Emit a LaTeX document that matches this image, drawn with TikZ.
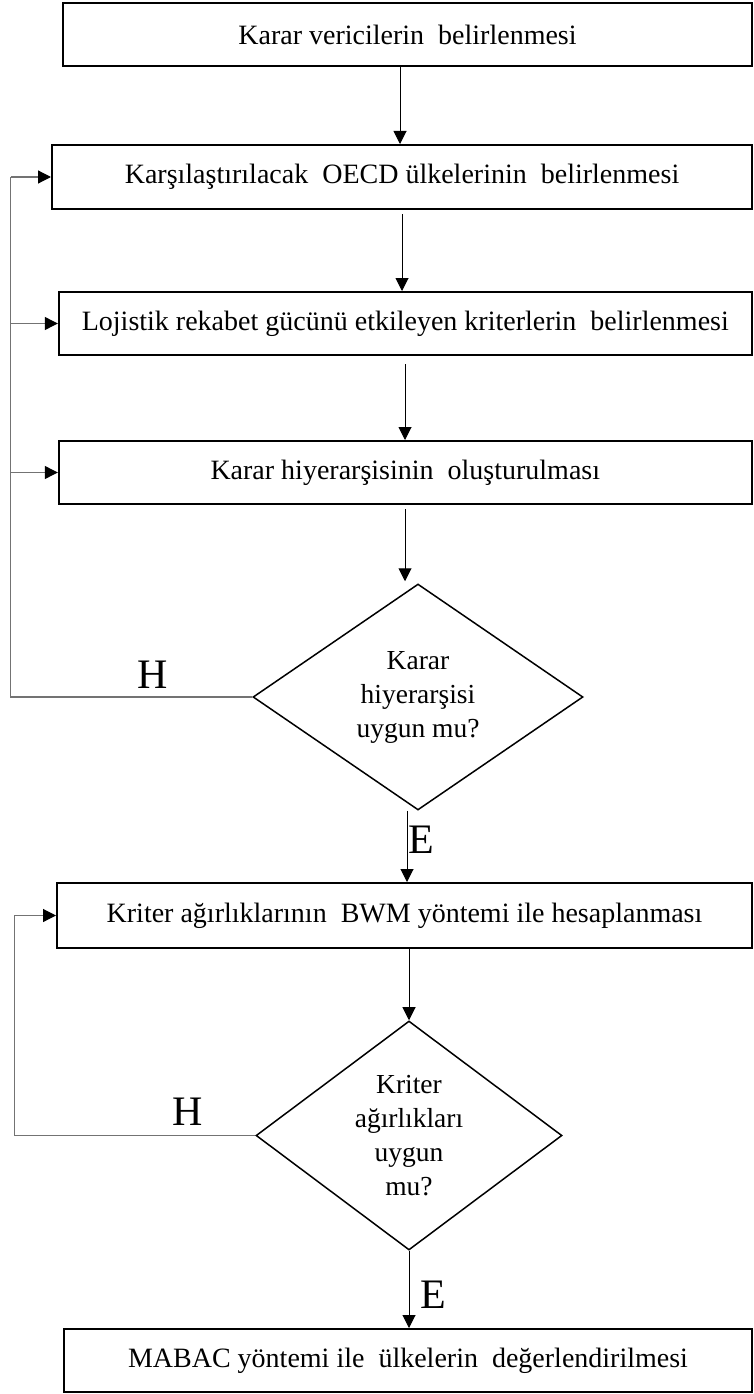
\documentclass[tikz,border=0pt]{standalone}
\usepackage{fontspec}
\setmainfont{Liberation Serif}
\usetikzlibrary{shapes.geometric,arrows.meta}
\definecolor{loopgray}{gray}{0.45}
\begin{document}
\begin{tikzpicture}[x=1pt,y=-1pt,
  stepbox/.style={draw, line width=2pt, inner sep=0pt, align=center,
    font=\fontsize{28}{34}\selectfont},
  decision/.style={draw, diamond, line width=1.5pt, inner sep=0pt, align=center,
    font=\fontsize{27.5}{34}\selectfont},
  flow/.style={line width=1pt, -{Triangle[length=13pt,width=13pt]}},
  loopline/.style={draw=loopgray, line width=1.2pt},
  looparrow/.style={loopline, -{Triangle[length=13pt,width=13pt,color=black]}},
  answer/.style={inner sep=0pt, font=\fontsize{42}{42}\selectfont}]
\useasboundingbox (0,0) rectangle (753,1394);

% process steps
\node[stepbox, minimum width=689pt, minimum height=63pt] (b1) at (407.5,34.5)
  {Karar vericilerin\ \ belirlenmesi};
\node[stepbox, minimum width=700pt, minimum height=64pt] (b2) at (402,177)
  {Karşılaştırılacak\ \ OECD ülkelerinin\ \ belirlenmesi};
\node[stepbox, minimum width=693pt, minimum height=63pt] (b3) at (405.3,323.5)
  {Lojistik rekabet gücünü etkileyen kriterlerin\ \ belirlenmesi};
\node[stepbox, minimum width=693pt, minimum height=63pt] (b4) at (405.3,472.5)
  {Karar hiyerarşisinin\ \ oluşturulması};
\node[decision, minimum width=330pt, minimum height=226pt] (d1) at (418,697)
  {Karar\\hiyerarşisi\\uygun mu?};
\node[stepbox, minimum width=695pt, minimum height=65pt] (b5) at (404.5,915.5)
  {Kriter ağırlıklarının\ \ BWM yöntemi ile hesaplanması};
\node[decision, minimum width=306pt, minimum height=225pt] (d2) at (409,1135.5)
  {Kriter\\ağırlıkları\\uygun\\mu?};
\node[stepbox, minimum width=688pt, minimum height=63pt] (b6) at (408,1360.5)
  {MABAC yöntemi ile\ \ ülkelerin\ \ değerlendirilmesi};

% answer labels
\node[answer] (h1) at (153,675) {H};
\node[answer] (e1) at (421,840) {E};
\node[answer] (h2) at (188,1112) {H};
\node[answer] (e2) at (433,1295) {E};

% main flow
\draw[flow] (400,0 |- b1.south) -- (400,0 |- b2.north);
\draw[flow] ([yshift=-4pt]402,0 |- b2.south) -- (402,0 |- b3.north);
\draw[flow] ([yshift=-8pt]405,0 |- b3.south) -- (405,0 |- b4.north);
\draw[flow] ([yshift=-4pt]405,0 |- b4.south) -- ([yshift=2pt]405,0 |- d1.north);
\draw[flow] (407,0 |- d1.south) -- (407,0 |- b5.north);
\draw[flow] (409,0 |- b5.south) -- (d2.north);
\draw[flow] (d2.south) -- (409,0 |- b6.north);

% return loops for a negative answer
\coordinate (l1) at (10.6,0);
\draw[loopline] (d1.west) -- (l1 |- d1.west) -- (l1 |- b2.west);
\draw[looparrow] (l1 |- b2.west) -- (b2.west);
\draw[looparrow] (l1 |- b3.west) -- (b3.west);
\draw[looparrow] (l1 |- b4.west) -- (b4.west);

\coordinate (l2) at (14.4,0);
\draw[loopline] (d2.west) -- (l2 |- d2.west) -- (l2 |- b5.west);
\draw[looparrow] (l2 |- b5.west) -- (b5.west);
\end{tikzpicture}
\end{document}
